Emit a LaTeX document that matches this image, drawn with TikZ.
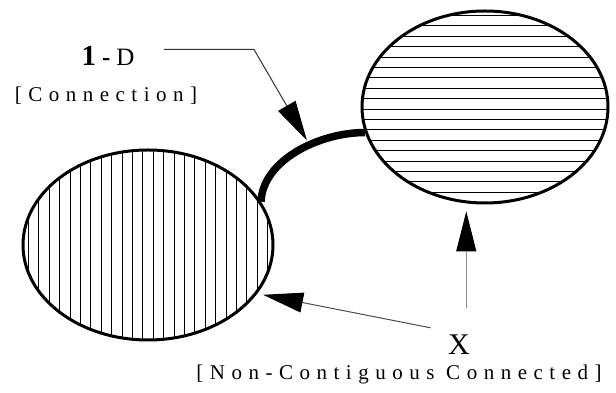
\documentclass[tikz,border=0pt]{standalone}
\usepackage{fontspec}
\setmainfont{Liberation Serif}
\usetikzlibrary{shapes.geometric, arrows.meta}
\tikzset{
    blob/.style={draw, ellipse, line width=3pt, inner sep=0pt},
    hatch/.style={line width=1pt},
    pointer/.style={line width=1pt, black!80, -{Triangle[length=40pt, width=20pt, black]}},
    spaced/.style={font=\fontsize{21}{21}\selectfont\addfontfeature{LetterSpace=31}}
}
\begin{document}
\begin{tikzpicture}[x=1pt, y=1pt]
        \useasboundingbox (0,0) rectangle (616,393);

        % Regions
        \node[blob, minimum width=250pt, minimum height=190pt, path picture={
            \foreach \i in {-12,...,11}{
                \draw[hatch] ([xshift=(\i+0.5)*10.4pt]path picture bounding box.north) -- ([xshift=(\i+0.5)*10.4pt]path picture bounding box.south);
            }}] (left) at (148, 148) {};
        \node[blob, minimum width=246pt, minimum height=192pt, path picture={
            \foreach \i in {-10,...,10}{
                \draw[hatch] ([yshift=(\i-0.2)*10.4pt]path picture bounding box.west) -- ([yshift=(\i-0.2)*10.4pt]path picture bounding box.east);
            }}] (right) at (485, 286) {};

        % Connection
        \draw[line width=7.5pt] (left.21) .. controls +(2,42) and +(-45,0) .. (right.192) coordinate[pos=0.6] (joint);

        % Labels
        \node[anchor=base, font=\fontsize{25}{25}\selectfont] (oned) at (108, 327) {{\fontsize{29}{29}\selectfont\bfseries 1}\hspace{6pt}\textbf{-}\hspace{6pt}D};
        \node[spaced, anchor=base] (conlab) at (106, 291) {[Connection]};
        \node[anchor=base, font=\fontsize{30}{30}\selectfont] (xlab) at (459, 38) {X};
        \node[spaced, anchor=base] (nclab) at (399, 13) {[Non-Contiguous Connected]};

        % Pointers
        \draw[pointer, shorten >=5pt] ([shift={(26,7)}]oned.east) -- ++(90,0) -- (joint);
        \draw[pointer, black!45, shorten <=24pt, shorten >=8pt] (xlab.north -| right.-101) -- (right.-101);
        \draw[pointer, black!70, shorten >=6pt] ([shift={(-14,4)}]xlab.north west) -- (left.-24);
    \end{tikzpicture}
\end{document}
